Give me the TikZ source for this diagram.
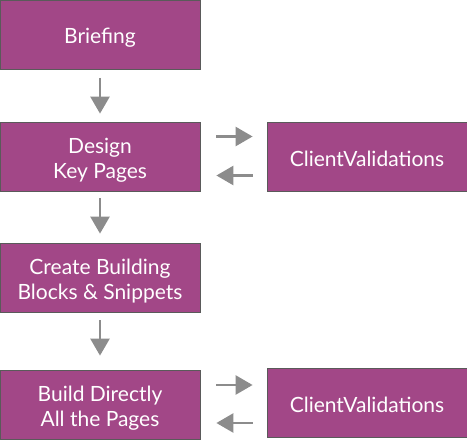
\documentclass[tikz,border=0pt]{standalone}
\usepackage{fontspec}
\setmainfont{Lato}
\usetikzlibrary{arrows.meta}
\definecolor{boxfill}{HTML}{A24787}
\definecolor{boxline}{HTML}{5A5A5A}
\definecolor{arrowgray}{HTML}{8C8C8C}
\newcommand{\topstrut}{\rule{0pt}{0.95em}}
\newcommand{\twostrut}{\rule{0pt}{1.1em}}
\begin{document}
\begin{tikzpicture}[x=1pt,y=1pt,
  stagebox/.style={draw=boxline, line width=0.8pt, fill=boxfill, text=white,
    minimum width=200pt, minimum height=69pt, inner sep=0pt, align=center,
    font=\fontsize{21}{25}\selectfont},
  flowarrow/.style={draw=arrowgray, line width=2.6pt,
    -{Triangle[width=19pt,length=17pt]}}
]
\useasboundingbox (0,0) rectangle (467,-440);
\node[stagebox] (brief) at (100,-35) {\topstrut Briefing};
\node[stagebox] (design) at (100,-156.5) {\twostrut Design\\Key Pages};
\node[stagebox] (create) at (100,-277.5) {\twostrut Create Building\\Blocks \& Snippets};
\node[stagebox] (build) at (100,-404.5) {\twostrut Build Directly\\All the Pages};
\node[stagebox] (val1) at (367,-156.5) {\topstrut ClientValidations};
\node[stagebox] (val2) at (367,-402.5) {\topstrut ClientValidations};

\draw[flowarrow, shorten <=8pt, shorten >=8pt] (brief.south) -- (design.north);
\draw[flowarrow, shorten <=7pt, shorten >=9pt] (design.south) -- (create.north);
\draw[flowarrow, shorten <=8pt, shorten >=14pt] (create.south) -- (build.north);

\draw[flowarrow, shorten <=16pt, shorten >=14pt] ([yshift=20pt]design.east) -- ([yshift=20pt]val1.west);
\draw[flowarrow, shorten <=14pt, shorten >=16pt] ([yshift=-19pt]val1.west) -- ([yshift=-19pt]design.east);
\draw[flowarrow, shorten <=16pt, shorten >=14pt] ([yshift=19.5pt]build.east) -- ([yshift=19.5pt]build.east -| val2.west);
\draw[flowarrow, shorten <=14pt, shorten >=16pt] ([yshift=-18.5pt]build.east -| val2.west) -- ([yshift=-18.5pt]build.east);
\end{tikzpicture}
\end{document}
